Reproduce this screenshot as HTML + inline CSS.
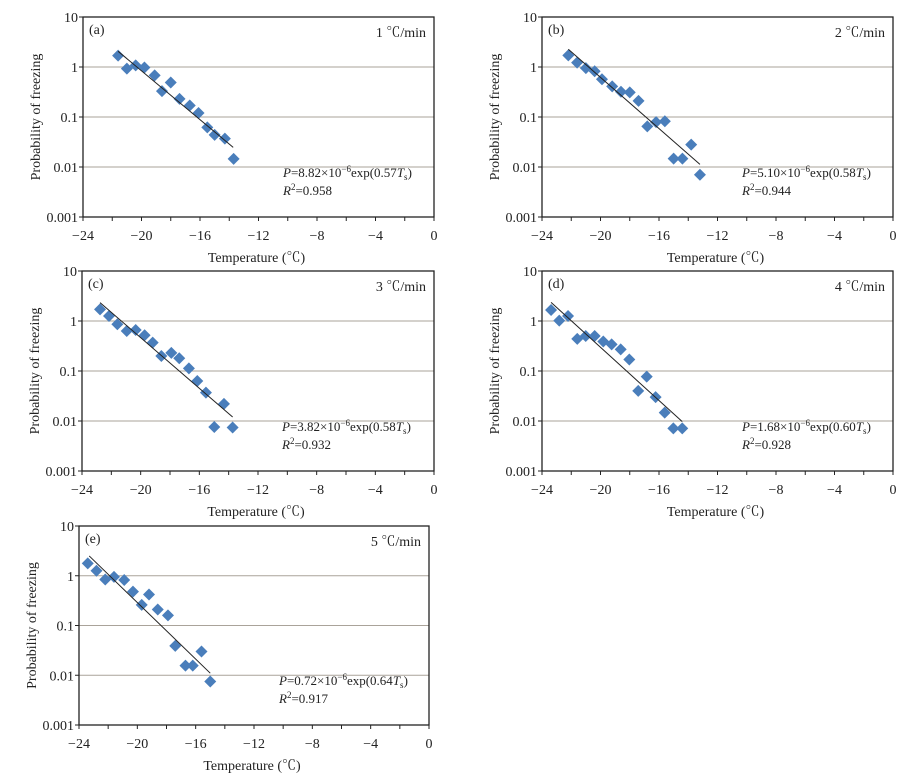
<!DOCTYPE html>
<html><head><meta charset="utf-8"><style>
html,body{margin:0;padding:0;background:#fff;}
svg{display:block;font-family:"Liberation Serif","Noto Serif CJK SC",serif;}
</style></head><body>
<svg id="chart" width="920" height="777" viewBox="0 0 920 777" xmlns="http://www.w3.org/2000/svg"></svg>
<script>
const xTicks = [-24,-20,-16,-12,-8,-4,0];
const xTickLabels = ["\u221224","\u221220","\u221216","\u221212","\u22128","\u22124","0"];
const yTicks = [10,1,0.1,0.01,0.001];
const yTickLabels = ["10","1","0.1","0.01","0.001"];
const panelLetters = ["(a)","(b)","(c)","(d)","(e)"];
const rateLabels = ["1 \u2103/min","2 \u2103/min","3 \u2103/min","4 \u2103/min","5 \u2103/min"];
const coefA = ["8.82","5.10","3.82","1.68","0.72"];
const coefB = ["0.57","0.58","0.58","0.60","0.64"];
const r2Values = ["0.958","0.944","0.932","0.928","0.917"];

const tempA = [-21.6,-21.0,-20.4,-19.8,-19.1,-18.6,-18.0,-17.4,-16.7,-16.1,-15.5,-15.0,-14.3,-13.7];
const probA = [1.69,0.93,1.08,0.98,0.68,0.33,0.49,0.23,0.17,0.12,0.062,0.044,0.037,0.0145];
const tempB = [-22.2,-21.6,-21.0,-20.4,-19.9,-19.2,-18.6,-18.0,-17.4,-16.8,-16.2,-15.6,-15.0,-14.4,-13.8,-13.2];
const probB = [1.71,1.22,0.95,0.82,0.57,0.41,0.32,0.31,0.21,0.065,0.079,0.082,0.0147,0.0147,0.028,0.0070];
const tempC = [-22.77,-22.16,-21.59,-20.95,-20.34,-19.73,-19.18,-18.59,-17.91,-17.37,-16.71,-16.14,-15.55,-14.32,-14.98,-13.73];
const probC = [1.71,1.26,0.86,0.63,0.66,0.52,0.37,0.20,0.23,0.18,0.113,0.063,0.037,0.022,0.0076,0.0074];
const tempD = [-23.38,-22.82,-22.22,-21.59,-21.01,-20.40,-19.81,-19.24,-18.62,-18.03,-17.42,-16.84,-16.23,-15.61,-15.02,-14.41];
const probD = [1.66,1.02,1.26,0.44,0.50,0.50,0.39,0.34,0.27,0.17,0.040,0.077,0.030,0.0147,0.0071,0.0071];
const tempE = [-23.4,-22.8,-22.2,-21.6,-20.9,-20.3,-19.7,-19.2,-18.6,-17.9,-17.4,-16.7,-16.2,-15.6,-15.0];
const probE = [1.77,1.26,0.84,0.95,0.82,0.48,0.26,0.42,0.21,0.16,0.039,0.0156,0.0156,0.030,0.0075];
const fitTemps = [[-21.6,-13.73],[-22.2,-13.2],[-22.77,-13.73],[-23.38,-14.41],[-23.3,-15.0]];
const fitProbs = [[2.06,0.0247],[2.26,0.0113],[2.33,0.012],[2.36,0.0097],[2.5,0.011]];

const temps=[tempA,tempB,tempC,tempD,tempE];
const probs=[probA,probB,probC,probD,probE];
const boxes=[[83,17,434,217],[542,17,893,217],[82,271,434,471],[542,271,893,471],[79,526,429,725]];

const NS="http://www.w3.org/2000/svg";
const svg=document.getElementById('chart');
function mk(tag,attrs,parent,text){const e=document.createElementNS(NS,tag);for(const k in attrs)e.setAttribute(k,attrs[k]);if(text!==undefined)e.textContent=text;parent.appendChild(e);return e;}

boxes.forEach((b,i)=>{
  const [L,T,R,B]=b;
  const g=mk('g',{},svg);
  
  
  const xs=t=>L+(t+24)/24*(R-L);
  const ys=p=>T+(1-Math.log10(p))/4*(B-T);
  // gridlines
  [1,0.1,0.01].forEach(v=>{
    const l=mk('line',{x1:L,x2:R,y1:ys(v),y2:ys(v),stroke:'#aaa39a','stroke-width':1},g);
    
    
  });
  // box
  const rect=mk('rect',{x:L,y:T,width:R-L,height:B-T,fill:'none',stroke:'#222','stroke-width':1.3},g);
  
  
  // y ticks
  yTicks.forEach((v,k)=>{
    mk('line',{x1:L-4,x2:L,y1:ys(v),y2:ys(v),stroke:'#222'},g);
    const t=mk('text',{x:L-5,y:ys(v)+5,'text-anchor':'end','font-size':14,fill:'#222'},g,yTickLabels[k]);
    
    
  });
  // x ticks
  for(let v=-24;v<=0;v+=2){mk('line',{x1:xs(v),x2:xs(v),y1:B,y2:B+4,stroke:'#222'},g);}
  xTicks.forEach((v,k)=>{
    const t=mk('text',{x:xs(v),y:B+23,'text-anchor':'middle','font-size':14,fill:'#222'},g,xTickLabels[k]);
    
    
  });
  const xt=mk('text',{x:(L+R)/2-2,y:B+45,'text-anchor':'middle','font-size':14,fill:'#222'},g,'Temperature (\u2103)');
  
  
  const yt=mk('text',{x:0,y:0,'text-anchor':'middle','font-size':14,fill:'#222',transform:`translate(${L-43},${(T+B)/2}) rotate(-90)`},g,'Probability of freezing');
  
  
  const pl=mk('text',{x:L+6,y:T+17,'font-size':14,fill:'#222'},g,panelLetters[i]);
  
  
  const rl=mk('text',{x:R-8,y:T+20,'text-anchor':'end','font-size':14,fill:'#222'},g,rateLabels[i]);
  
  
  // equation
  const eq=mk('text',{x:L+200,y:B-40,'font-size':13,fill:'#222'},g);
  
  
  mk('tspan',{'font-style':'italic'},eq,'P');
  mk('tspan',{},eq,'='+coefA[i]+'\u00d710');
  mk('tspan',{dy:-5,'font-size':9},eq,'\u22126');
  mk('tspan',{dy:5},eq,'exp('+coefB[i]);
  mk('tspan',{'font-style':'italic'},eq,'T');
  mk('tspan',{dy:3,'font-size':9},eq,'s');
  mk('tspan',{dy:-3},eq,')');
  const r2=mk('text',{x:L+200,y:B-22,'font-size':13,fill:'#222'},g);
  
  
  mk('tspan',{'font-style':'italic'},r2,'R');
  mk('tspan',{dy:-5,'font-size':9},r2,'2');
  mk('tspan',{dy:5},r2,'='+r2Values[i]);
  // points
  temps[i].forEach((t,k)=>{
    const cx=xs(t),cy=ys(probs[i][k]),s=6;
    const d=mk('polygon',{points:`${cx},${cy-s} ${cx+s},${cy} ${cx},${cy+s} ${cx-s},${cy}`,fill:'#4a7ebb'},g);
    
    
  });
  // fit line
  const fl=mk('line',{x1:xs(fitTemps[i][0]),y1:ys(fitProbs[i][0]),x2:xs(fitTemps[i][1]),y2:ys(fitProbs[i][1]),stroke:'#222','stroke-width':1},g);
  
  
});
</script>
</body></html>
